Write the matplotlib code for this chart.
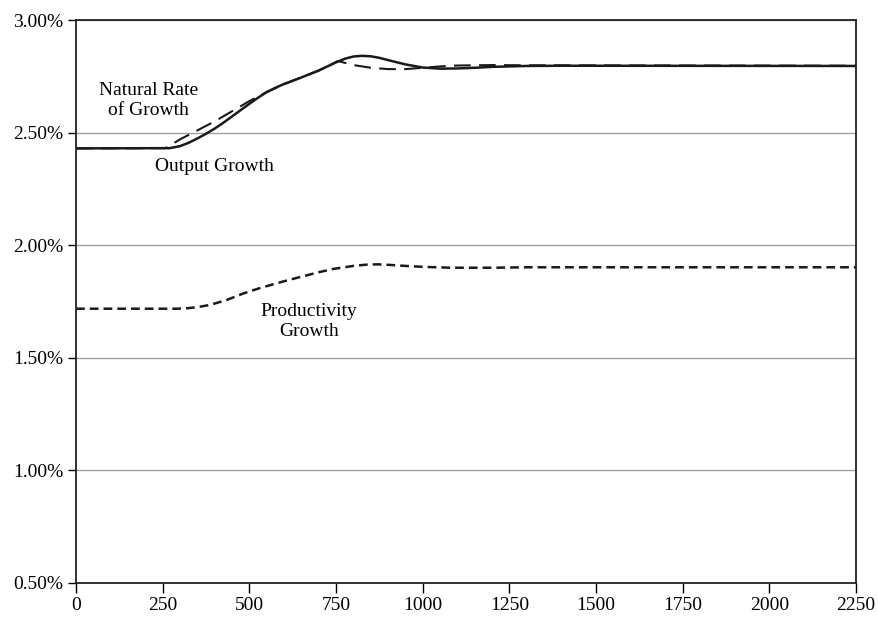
import matplotlib.pyplot as plt
from matplotlib.ticker import FuncFormatter

# Output growth (solid)
out_x = [0, 270, 300, 325, 350, 375, 400, 425, 450, 475, 500, 525, 550, 575,
         600, 650, 700, 750, 775, 800, 825, 850, 875, 900, 950, 1000, 1050,
         1100, 1150, 1200, 1300, 1400, 2250]
out_y = [2.430, 2.431, 2.440, 2.455, 2.474, 2.495, 2.518, 2.544, 2.572, 2.600,
         2.628, 2.655, 2.680, 2.699, 2.716, 2.745, 2.776, 2.812, 2.828, 2.838,
         2.841, 2.839, 2.832, 2.822, 2.803, 2.789, 2.784, 2.785, 2.788, 2.792,
         2.796, 2.797, 2.796]

# Natural rate of growth (long dashes)
nat_x = [0, 258, 300, 350, 400, 450, 500, 550, 600, 650, 700, 755, 775, 800,
         850, 900, 950, 1000, 1050, 1100, 1200, 1300, 2250]
nat_y = [2.430, 2.431, 2.470, 2.510, 2.550, 2.595, 2.640, 2.680, 2.715, 2.745,
         2.775, 2.818, 2.810, 2.800, 2.788, 2.782, 2.782, 2.788, 2.794, 2.798,
         2.800, 2.799, 2.797]

# Productivity growth (short dashes)
prod_x = [0, 290, 320, 350, 387, 435, 483, 531, 600, 647, 700, 743, 800, 840,
          870, 900, 950, 1000, 1080, 1200, 1300, 2250]
prod_y = [1.718, 1.718, 1.720, 1.725, 1.735, 1.757, 1.786, 1.810, 1.840, 1.859,
          1.880, 1.895, 1.908, 1.914, 1.915, 1.913, 1.908, 1.904, 1.900, 1.900,
          1.902, 1.902]

x_ticks = [0, 250, 500, 750, 1000, 1250, 1500, 1750, 2000, 2250]
y_ticks = [0.5, 1.0, 1.5, 2.0, 2.5, 3.0]

plt.rcParams['font.family'] = ['Liberation Serif', 'DejaVu Serif']

fig = plt.figure(figsize=(8.79, 6.2), dpi=100)
ax = fig.add_axes([0.0865, 0.0597, 0.8875, 0.908])

ax.plot(nat_x, nat_y, color='#1a1a1a', lw=1.5, linestyle=(0, (8, 4)))
ax.plot(out_x, out_y, color='#1a1a1a', lw=1.8, linestyle='-')
ax.plot(prod_x, prod_y, color='#1a1a1a', lw=1.8, linestyle=(0, (3.5, 2)))

ax.set_xlim(0, 2250)
ax.set_ylim(0.5, 3.0)
ax.set_xticks(x_ticks)
ax.set_yticks(y_ticks)
ax.yaxis.set_major_formatter(FuncFormatter(lambda v, p: '%.2f%%' % v))
ax.grid(axis='y', color='#a0a0a0', lw=1)
ax.set_axisbelow(True)

for s in ax.spines.values():
    s.set_color('#222222')
    s.set_linewidth(1.3)

ax.tick_params(axis='x', direction='out', length=7, width=1, labelsize=14, pad=3)
ax.tick_params(axis='y', direction='out', length=6, width=1, labelsize=14, pad=3)

ax.text(208, 2.643, 'Natural Rate\nof Growth', ha='center', va='center',
        fontsize=14, linespacing=1.25)
ax.text(400, 2.35, 'Output Growth', ha='center', va='center', fontsize=14)
ax.text(671, 1.661, 'Productivity\nGrowth', ha='center', va='center',
        fontsize=14, linespacing=1.25)

plt.savefig('out.png', dpi=100)
